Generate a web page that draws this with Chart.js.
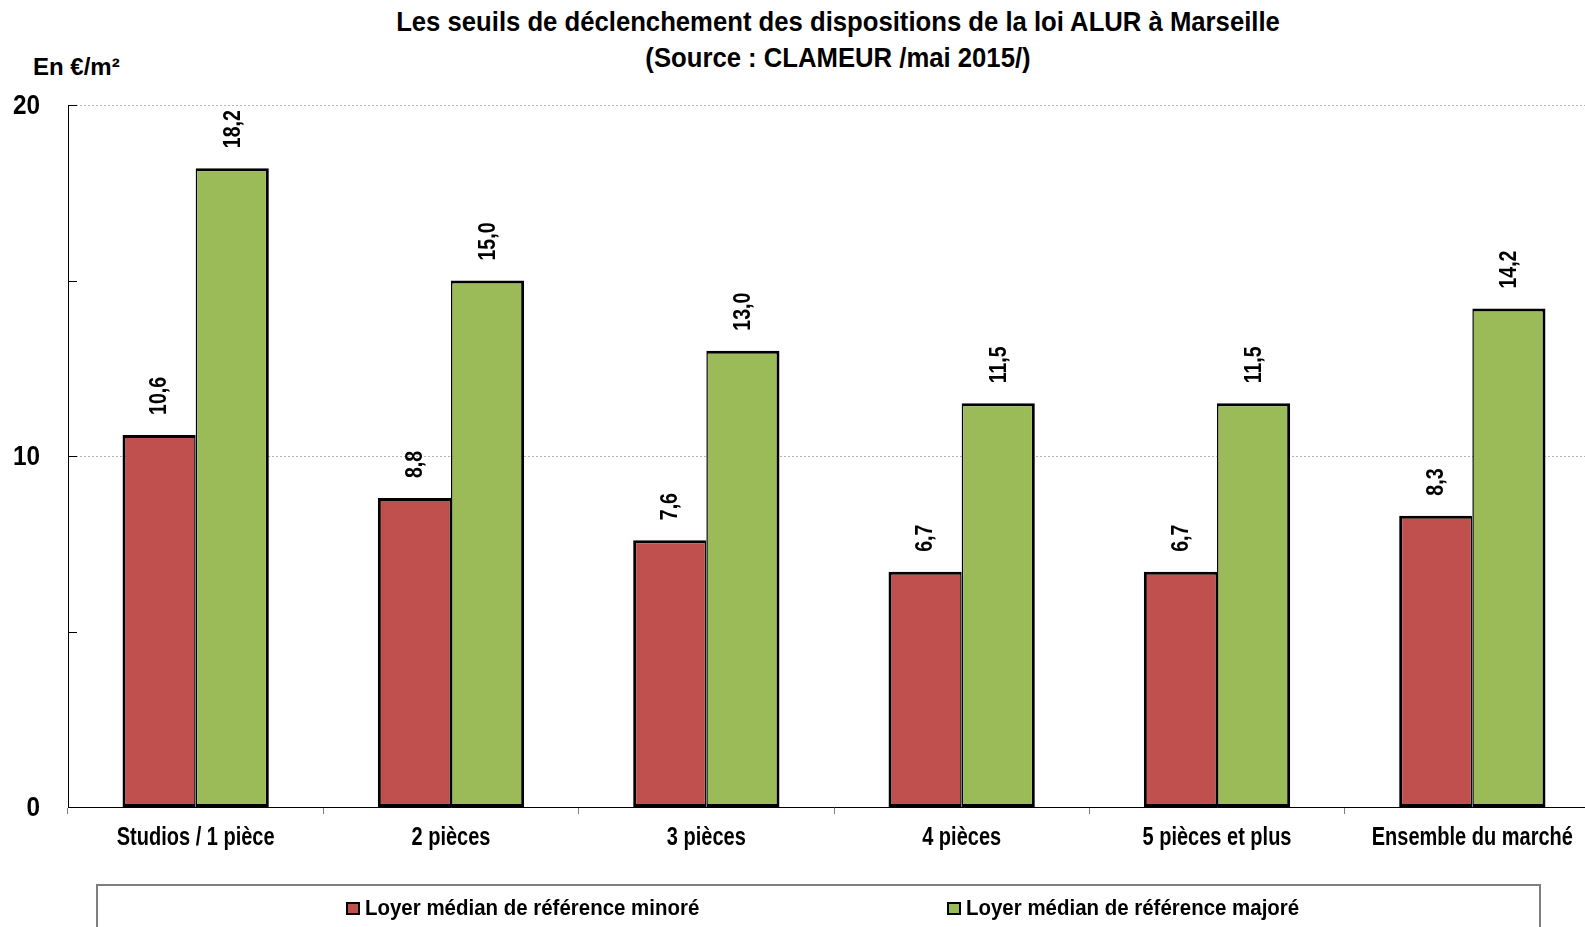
<!DOCTYPE html>
<html lang="fr">
<head>
<meta charset="UTF-8">
<title>Seuils loi ALUR Marseille</title>
<script src="https://cdn.jsdelivr.net/npm/chart.js"></script>
<style>
    html, body { margin: 0; padding: 0; background: #fff; overflow: hidden; width: 1585px; height: 927px; }
    body { position: relative; font-family: 'Liberation Sans', Arial, sans-serif; font-weight: bold; color: #000; }
    #chart { position: absolute; left: 0; top: 0; }
    .title { position: absolute; left: 0; width: 1676px; text-align: center; font-size: 28px; line-height: 34px;
             transform: scaleX(0.917); transform-origin: 838px 0; white-space: nowrap; }
    #unit { position: absolute; left: 33px; top: 53px; font-size: 24px; line-height: 28px; }
    #legend { position: absolute; left: 96px; top: 884px; width: 1441px; height: 80px; border: 2px solid #7f7f7f; }
    .sw { position: absolute; top: 16px; width: 10px; height: 9px; border: 2.5px solid #000; }
    .lbl { position: absolute; top: 9px; font-size: 22px; line-height: 26px; white-space: nowrap;
           transform: scaleX(0.93); transform-origin: 0 0; }
</style>
</head>
<body>
<div class="title" style="top:5px">Les seuils de déclenchement des dispositions de la loi ALUR à Marseille</div>
<div class="title" style="top:41px">(Source : CLAMEUR /mai 2015/)</div>
<div id="unit">En €/m²</div>
<canvas id="chart" width="1600" height="927" style="width:1600px;height:927px"></canvas>
<div id="legend"></div>
<script>
const categories = ['Studios / 1 pièce', '2 pièces', '3 pièces', '4 pièces', '5 pièces et plus', 'Ensemble du marché'];
const seriesNames = ['Loyer médian de référence minoré', 'Loyer médian de référence majoré'];
const minore = [10.6, 8.8, 7.6, 6.7, 6.7, 8.3];
const majore = [18.2, 15.0, 13.0, 11.5, 11.5, 14.2];
const yTickLabels = [0, 10, 20];
const yGridValues = [10, 20];
const yMinorTicks = [5, 10, 15, 20];
const colors = ['#C0504D', '#9BBB59'];

const FONT = "'Liberation Sans', Arial, sans-serif";

// text squeezed horizontally to look like the narrow font of the original
function narrowText(ctx, text, x, y, sx, align, baseline) {
    ctx.save();
    ctx.translate(x, y);
    ctx.scale(sx, 1);
    ctx.textAlign = align;
    ctx.textBaseline = baseline;
    ctx.fillText(text, 0, 0);
    ctx.restore();
}

// dotted gridlines + short inner ticks on the value axis
const valueGrid = {
    id: 'valueGrid',
    beforeDatasetsDraw(chart) {
        const y = chart.scales.y, ctx = chart.ctx, area = chart.chartArea;
        ctx.save();
        ctx.strokeStyle = '#b4b4b4';
        ctx.lineWidth = 1;
        ctx.setLineDash([2, 2]);
        yGridValues.forEach(v => {
            const py = Math.round(y.getPixelForValue(v)) + 0.5;
            ctx.beginPath();
            ctx.moveTo(area.left, py);
            ctx.lineTo(area.right, py);
            ctx.stroke();
        });
        ctx.setLineDash([]);
        ctx.strokeStyle = '#000';
        yMinorTicks.forEach(v => {
            const py = Math.round(y.getPixelForValue(v)) + 0.5;
            ctx.beginPath();
            ctx.moveTo(area.left, py);
            ctx.lineTo(area.left + 9, py);
            ctx.stroke();
        });
        ctx.restore();
    }
};

// axis labels and rotated value labels
const labelsPlugin = {
    id: 'labelsPlugin',
    afterDraw(chart) {
        const ctx = chart.ctx, x = chart.scales.x, y = chart.scales.y;
        ctx.save();
        ctx.fillStyle = '#000';

        ctx.font = 'bold 28px ' + FONT;
        yTickLabels.forEach(v => narrowText(ctx, String(v), 40, y.getPixelForValue(v) + 1, 0.87, 'right', 'middle'));

        ctx.font = 'bold 25px ' + FONT;
        categories.forEach((c, i) => narrowText(ctx, c, x.getPixelForValue(i), 845, 0.8, 'center', 'alphabetic'));

        ctx.font = 'bold 23px ' + FONT;
        chart.data.datasets.forEach((ds, i) => {
            chart.getDatasetMeta(i).data.forEach((bar, j) => {
                ctx.save();
                ctx.translate(bar.x + 1, bar.y - 20);
                ctx.rotate(-Math.PI / 2);
                ctx.scale(0.85, 1);
                ctx.textAlign = 'left';
                ctx.textBaseline = 'middle';
                ctx.fillText(ds.data[j].toFixed(1).replace('.', ','), 0, 0);
                ctx.restore();
            });
        });
        ctx.restore();
    }
};

new Chart(document.getElementById('chart'), {
    type: 'bar',
    data: {
        labels: categories,
        datasets: [
            { label: seriesNames[0], data: minore, backgroundColor: colors[0], borderColor: '#000',
              borderWidth: { top: 3, left: 3, bottom: 3, right: 1.5 }, borderSkipped: false },
            { label: seriesNames[1], data: majore, backgroundColor: colors[1], borderColor: '#000',
              borderWidth: { top: 3, left: 1.5, bottom: 3, right: 3 }, borderSkipped: false }
        ]
    },
    options: {
        responsive: false,
        animation: false,
        layout: { padding: { left: 0, right: 0, top: 105, bottom: 0 } },
        datasets: { bar: { categoryPercentage: 0.573, barPercentage: 1.0 } },
        plugins: { legend: { display: false }, tooltip: { enabled: false } },
        scales: {
            x: {
                offset: true,
                grid: { offset: true, drawOnChartArea: false, drawTicks: true, tickLength: 7, color: '#7f7f7f' },
                border: { display: true, color: '#000', width: 1 },
                ticks: { display: false },
                afterFit(s) { s.height = 120; }
            },
            y: {
                min: 0, max: 20,
                grid: { display: false },
                border: { display: true, color: '#000', width: 1 },
                ticks: { display: false, stepSize: 10 },
                afterFit(s) { s.width = 68; }
            }
        }
    },
    plugins: [valueGrid, labelsPlugin]
});

const legend = document.getElementById('legend');
[[248, 0], [849, 1]].forEach(([left, i]) => {
    const sw = document.createElement('div');
    sw.className = 'sw';
    sw.style.left = left + 'px';
    sw.style.background = colors[i];
    legend.appendChild(sw);
    const t = document.createElement('div');
    t.className = 'lbl';
    t.style.left = (left + 19) + 'px';
    t.textContent = seriesNames[i];
    legend.appendChild(t);
});
</script>
</body>
</html>
